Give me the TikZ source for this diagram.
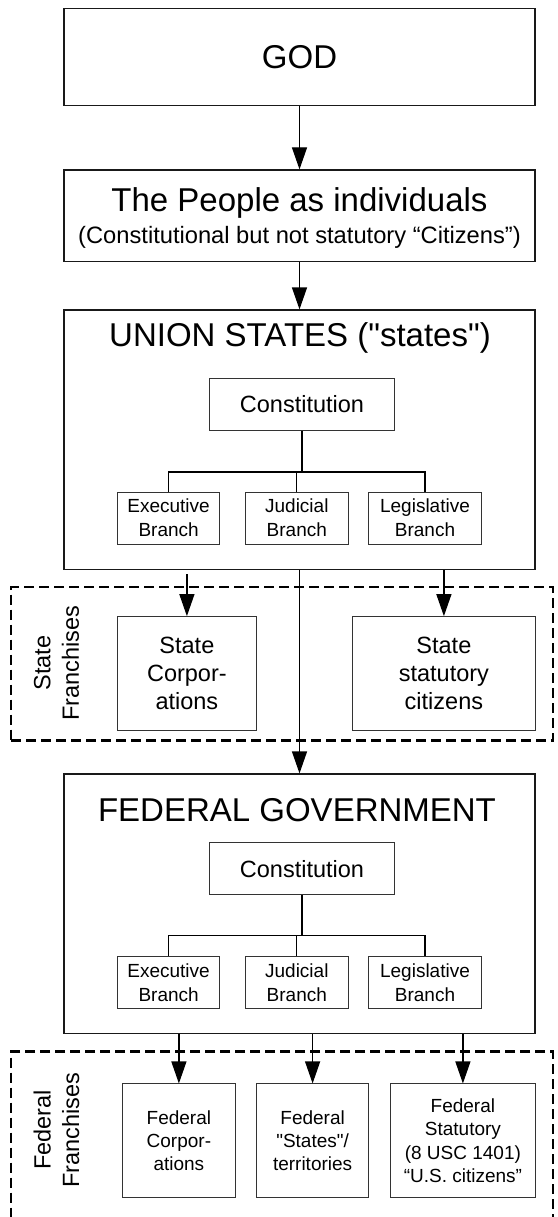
\documentclass[tikz,border=0pt]{standalone}
\usepackage{fontspec}
\setmainfont{Liberation Sans}
\usetikzlibrary{arrows.meta}
\begin{document}
\begin{tikzpicture}[x=1pt,y=-1pt,
  bigbox/.style={draw=black!90, line width=1.3pt, inner sep=0pt, minimum width=471pt},
  smallbox/.style={draw=black!80, line width=1pt, inner sep=0pt, align=center},
  conn/.style={line width=1.2pt},
  arr/.style={line width=1.2pt, -{Triangle[length=22pt,width=15pt]}},
  dashbox/.style={draw, line width=2.5pt, dash pattern=on 10pt off 5pt, inner sep=0pt, outer sep=0pt},
  ftitle/.style={font=\fontsize{33pt}{39pt}\selectfont},
  fsub/.style={font=\fontsize{23.7pt}{28pt}\selectfont},
  fcon/.style={font=\fontsize{23.5pt}{28pt}\selectfont},
  fbr/.style={font=\fontsize{19pt}{24pt}\selectfont},
  ffr/.style={font=\fontsize{19pt}{23.3pt}\selectfont},
  fstate/.style={font=\fontsize{23.5pt}{28pt}\selectfont},
  flab/.style={font=\fontsize{23.5pt}{28.4pt}\selectfont, rotate=90, align=center},
]
\useasboundingbox (0,0) rectangle (557,1217);

% GOD and the People
\node[bigbox, minimum height=97pt, ftitle] (god) at (299.5,56.8) {GOD};
\node[bigbox, minimum height=91.3pt] (people) at (299.5,215.7) {};
\node[ftitle, anchor=base] (peopleT) at (299.5,211.8) {The People as individuals};
\node[fsub, anchor=base] (peopleS) at (299.5,243.6) {(Constitutional but not statutory “Citizens”)};

% Union states
\node[bigbox, minimum height=259.3pt] (union) at (299.5,439.7) {};
\node[ftitle, anchor=base] (unionT) at (300,346.8) {UNION STATES (\textquotedbl states\textquotedbl)};
\node[smallbox, minimum width=184.7pt, minimum height=51.6pt, fcon] (conU) at (302,404.5) {Constitution};
\node[smallbox, minimum width=102.7pt, minimum height=51.7pt, fbr] (exU) at (168.6,518.2) {Executive\\Branch};
\node[smallbox, minimum width=102.6pt, minimum height=51.7pt, fbr] (juU) at (296.8,518.2) {Judicial\\Branch};
\node[smallbox, minimum width=112.7pt, minimum height=51.7pt, fbr] (leU) at (425,518.2) {Legislative\\Branch};
\coordinate (barU) at (0,472);
\draw[conn] (conU.south) -- (conU.south |- barU);
\draw[conn] (exU.north) -- (exU.north |- barU) -- (leU.north |- barU) -- (leU.north);
\draw[conn] (juU.north) -- (juU.north |- barU);

% State franchises
\node[dashbox, minimum width=542pt, minimum height=153.5pt] (stateF) at (282,663.75) {};
\node[flab] (stL) at (56.5,663) {State\\Franchises};
\node[smallbox, minimum width=139.3pt, minimum height=114.3pt, fstate] (stC) at (186.9,673.8) {State\\Corpor-\\ations};
\node[smallbox, minimum width=182.2pt, minimum height=114.3pt, fstate] (stS) at (443.9,673.8) {State\\statutory\\citizens};

% Federal government
\node[bigbox, minimum height=259.3pt] (fed) at (299.5,903.7) {};
\node[ftitle, anchor=base] (fedT) at (297,821.8) {FEDERAL GOVERNMENT};
\node[smallbox, minimum width=184.7pt, minimum height=51.6pt, fcon] (conF) at (302,868.7) {Constitution};
\node[smallbox, minimum width=102.7pt, minimum height=51.7pt, fbr] (exF) at (168.6,982.5) {Executive\\Branch};
\node[smallbox, minimum width=102.6pt, minimum height=51.7pt, fbr] (juF) at (296.8,982.5) {Judicial\\Branch};
\node[smallbox, minimum width=112.7pt, minimum height=51.7pt, fbr] (leF) at (425,982.5) {Legislative\\Branch};
\coordinate (barF) at (0,935.7);
\draw[conn] (conF.south) -- (conF.south |- barF);
\draw[conn] (exF.north) -- (exF.north |- barF) -- (leF.north |- barF) -- (leF.north);
\draw[conn] (juF.north) -- (juF.north |- barF);

% Federal franchises
\begin{scope}
\clip (0,0) rectangle (557,1217);
\node[dashbox, minimum width=542pt, minimum height=200pt, anchor=north west] (fedF) at (11,1051.7) {};
\end{scope}
\node[flab] (fdL) at (56.5,1130) {Federal\\Franchises};
\node[smallbox, minimum width=112.6pt, minimum height=113.7pt, ffr] (fC) at (178.9,1140.8) {Federal\\Corpor-\\ations};
\node[smallbox, minimum width=112.2pt, minimum height=113.7pt, ffr] (fS) at (312.6,1140.8) {Federal\\\textquotedbl States\textquotedbl/\\territories};
\node[smallbox, minimum width=144.2pt, minimum height=113.7pt, ffr] (fT) at (462.9,1140.8) {Federal\\Statutory\\(8 USC 1401)\\“U.S. citizens”};

% Arrows
\draw[arr] (god) -- (people);
\draw[arr] (people) -- (union);
\coordinate (uS) at ([yshift=-4pt]union.south);
\draw[arr] (uS -| stC.north) -- (stC.north);
\draw[arr] (union.south -| stS.north) -- (stS.north);
\draw[arr] (union.south) -- (fed.north);
\draw[arr] (fed.south -| fC.north) -- (fC.north);
\draw[arr] (fed.south -| fS.north) -- (fS.north);
\draw[arr] (fed.south -| fT.north) -- (fT.north);
\end{tikzpicture}
\end{document}
